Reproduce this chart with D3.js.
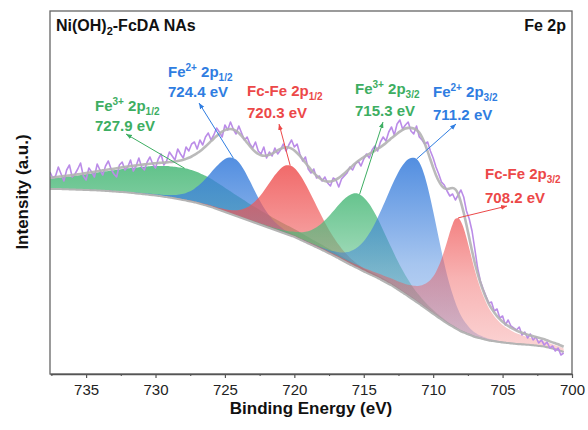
<!DOCTYPE html>
<html><head><meta charset="utf-8">
<script src="https://cdn.jsdelivr.net/npm/d3@7"></script>
<style>body{margin:0;background:#fff} svg{display:block;font-family:Arial,'Liberation Sans',sans-serif}</style>
</head><body><svg id="c" width="588" height="430"></svg>
<script>
// ---------- DATA ----------
const xTicks = [735, 730, 725, 720, 715, 710, 705, 700];
const xMinorTicks = [737.5, 732.5, 727.5, 722.5, 717.5, 712.5, 707.5, 702.5];

// fitted components (binding energies as labelled)
const peakSpecies  = ["Fe", "Fe", "Fc-Fe", "Fe", "Fe", "Fc-Fe"];
const peakCharge   = ["3+", "2+", "", "3+", "2+", ""];
const peakOrbital  = ["1/2", "1/2", "1/2", "3/2", "3/2", "3/2"];
const peakCenters  = [727.9, 724.4, 720.3, 715.3, 711.2, 708.2];
const peakHeights  = [32, 57, 70, 75, 143, 112];
const peakFWHMHigh = [14, 3.8, 3.8, 4.4, 5.0, 2.6];   // high-BE side
const peakFWHMLow  = [10, 3.4, 4.4, 4.6, 3.5, 2.9];   // low-BE side
const peakLorentz  = [0.7, 0.2, 0.2, 0.2, 0.1, 0.9];

// Shirley-type background
const bgEnergy = [738,737,736,735,734,733,732,731,730,729,728,727,726,725,724,723,722,721,720,
                  719,718,717,716,715,714,713,712,711,710,709,708,707,706,705,704,703,702,701,700];
const bgIntensity = [184,184,183.5,183,182.5,181.5,180.5,179,177.5,175.5,173,170,166,161,156,151,146,141,136,
                  129.5,123,116,108.5,101.5,95,87.5,78.5,69,59,49.5,41.5,36,32.5,30.5,29,28,26.5,23,18];

// raw spectrum, from 737.6 eV downward in 0.2 eV steps
const rawStartEV = 737.6, rawStepEV = 0.2;
const rawIntensity = [
 201,195,197,206,199,192,203,208,196,
 199,204,210,197,193,205,201,196,209,203,
 198,207,212,204,199,196,208,211,203,206,
 213,202,207,215,206,203,211,216,209,205,
 214,219,208,212,221,217,213,224,219,215,
 226,222,229,231,224,233,228,236,240,233,
 238,245,241,236,248,243,251,244,239,247,
 240,233,236,229,225,231,222,219,226,215,
 221,217,225,219,223,229,222,228,233,226,
 229,219,212,216,204,200,204,195,197,192,
 196,190,187,195,193,186,194,197,200,206,
 203,209,212,207,214,219,215,223,227,222,
 231,236,232,241,246,238,249,253,244,248,
 251,242,239,247,236,233,229,231,222,215,
 206,199,191,188,182,177,179,173,178,183,
 176,162,154,142,124,105,92,84,77,70,
 71,62,64,55,57,48,53,47,45,43,
 46,38,41,35,39,33,36,30,33,28,
 31,25,27,22,25,18,20
];

// ---------- STYLE / LAYOUT ----------
const peakFill = ["#4dba7b", "#3b7fdc", "#ef5656", "#4dba7b", "#3b7fdc", "#ef5656"];
const peakText = ["#3dae62", "#2f7de1", "#ec4848", "#3dae62", "#2f7de1", "#ec4848"];
const labelPos = [[95,111],[168,77],[247,96],[355,94],[433,97],[485,179]];
const labelGap = [20, 20, 22, 22, 23, 24];
const arrowEnd = [[126,134],[199,103],[279,124],[383,122],[456,124],[507,206]];

const L = 50, R = 572, T = 11, B = 374;
const font = "Arial,'Liberation Sans',sans-serif";

const svg = d3.select("#c");
const x = d3.scaleLinear().domain([737.6, 700]).range([L, R]);
const y = d3.scaleLinear().domain([-1, 362]).range([B, T]);
const bg = d3.scaleLinear().domain(bgEnergy).range(bgIntensity);

const rawE = rawIntensity.map((_, i) => rawStartEV - rawStepEV * i);
function peak(i, e) {
  const w = e >= peakCenters[i] ? peakFWHMHigh[i] : peakFWHMLow[i];
  const d = (e - peakCenters[i]) / w;
  const g = Math.exp(-4 * Math.LN2 * d * d);
  const l = 1 / (1 + 4 * d * d);
  return peakHeights[i] * ((1 - peakLorentz[i]) * g + peakLorentz[i] * l);
}

const defs = svg.append("defs");
defs.append("clipPath").attr("id", "clip").append("rect")
  .attr("x", L).attr("y", T).attr("width", R - L).attr("height", B - T);

peakFill.forEach((c, i) => {
  const g = defs.append("linearGradient").attr("id", "g" + i)
    .attr("x1", 0).attr("y1", 0).attr("x2", 0).attr("y2", 1);
  g.append("stop").attr("offset", 0).attr("stop-color", c).attr("stop-opacity", 0.88);
  g.append("stop").attr("offset", 0.55).attr("stop-color", c).attr("stop-opacity", 0.45);
  g.append("stop").attr("offset", 1).attr("stop-color", c).attr("stop-opacity", 0.25);
  defs.append("marker").attr("id", "m" + i).attr("viewBox", "0 0 10 10")
    .attr("refX", 10).attr("refY", 5).attr("markerWidth", 6).attr("markerHeight", 6)
    .attr("orient", "auto").append("path").attr("d", "M0,1L10,5L0,9Z").attr("fill", peakText[i]);
});

const plot = svg.append("g").attr("clip-path", "url(#clip)");

// component fills
peakCenters.forEach((c, i) => {
  const area = d3.area().x(e => x(e)).y0(e => y(bg(e))).y1(e => y(bg(e) + peak(i, e)))
    .curve(d3.curveMonotoneX);
  plot.append("path").datum(rawE).attr("d", area).attr("fill", `url(#g${i})`);
});

// background line
plot.append("path").datum(rawE)
  .attr("d", d3.line().x(e => x(e)).y(e => y(bg(e))).curve(d3.curveMonotoneX))
  .attr("fill", "none").attr("stroke", "#b4b4b4").attr("stroke-width", 2);

// raw data
plot.append("path").datum(rawIntensity)
  .attr("d", d3.line().x((v, i) => x(rawE[i])).y(v => y(v)))
  .attr("fill", "none").attr("stroke", "#bb8ce8").attr("stroke-width", 1.6)
  .attr("stroke-linejoin", "round");

// envelope
plot.append("path").datum(rawE)
  .attr("d", d3.line().x(e => x(e))
    .y(e => y(bg(e) + d3.sum(peakCenters, (c, i) => peak(i, e)))).curve(d3.curveMonotoneX))
  .attr("fill", "none").attr("stroke", "#b3b3b3").attr("stroke-width", 2.6).attr("stroke-opacity", 0.9);

// frame
svg.append("rect").attr("x", L).attr("y", T).attr("width", R - L).attr("height", B - T)
  .attr("fill", "none").attr("stroke", "#666").attr("stroke-width", 1.3);

// axis
const ax = svg.append("g").attr("transform", `translate(0,${B})`)
  .call(d3.axisBottom(x).tickValues(xTicks).tickSize(4).tickSizeOuter(0).tickPadding(6).tickFormat(d3.format("d")));
ax.select(".domain").attr("stroke", "#555").attr("stroke-width", 1.3);
ax.selectAll(".tick line").attr("stroke", "#555").attr("stroke-width", 1.2);
ax.selectAll(".tick text").attr("font-size", 15).attr("font-family", font).attr("fill", "#222");
const axm = svg.append("g").attr("transform", `translate(0,${B})`)
  .call(d3.axisBottom(x).tickValues(xMinorTicks).tickSize(2).tickFormat(""));
axm.select(".domain").remove();
axm.selectAll(".tick line").attr("stroke", "#555").attr("stroke-width", 1.1);

// axis titles
svg.append("text").attr("x", 311).attr("y", 414).attr("text-anchor", "middle")
  .attr("font-size", 17).attr("font-weight", "bold").attr("fill", "#111").text("Binding Energy (eV)");
svg.append("text").attr("transform", "translate(28,192) rotate(-90)").attr("text-anchor", "middle")
  .attr("font-size", 17).attr("font-weight", "bold").attr("fill", "#111").text("Intensity (a.u.)");

// panel titles
const t1 = svg.append("text").attr("x", 56).attr("y", 31).attr("font-size", 16)
  .attr("font-weight", "bold").attr("fill", "#111");
t1.append("tspan").text("Ni(OH)");
t1.append("tspan").attr("font-size", 11).attr("dy", 4).text("2");
t1.append("tspan").attr("dy", -4).text("-FcDA NAs");
svg.append("text").attr("x", 566).attr("y", 31).attr("text-anchor", "end").attr("font-size", 16)
  .attr("font-weight", "bold").attr("fill", "#111").text("Fe 2p");

// peak labels and arrows
peakCenters.forEach((c, i) => {
  const [lx, ly] = labelPos[i];
  const t = svg.append("text").attr("x", lx).attr("y", ly).attr("font-size", 15)
    .attr("font-weight", "bold").attr("fill", peakText[i]);
  t.append("tspan").text(peakSpecies[i]);
  if (peakCharge[i]) {
    t.append("tspan").attr("font-size", 10).attr("dy", -6).text(peakCharge[i]);
    t.append("tspan").attr("dy", 6).text(" 2p");
  } else {
    t.append("tspan").text(" 2p");
  }
  t.append("tspan").attr("font-size", 10).attr("dy", 4).text(peakOrbital[i]);
  svg.append("text").attr("x", lx).attr("y", ly + labelGap[i]).attr("font-size", 15)
    .attr("font-weight", "bold").attr("fill", peakText[i]).text(c.toFixed(1) + " eV");

  const sx = x(c), sy = y(bg(c) + peak(i, c));
  svg.append("line").attr("x1", sx).attr("y1", sy).attr("x2", arrowEnd[i][0]).attr("y2", arrowEnd[i][1])
    .attr("stroke", peakText[i]).attr("stroke-width", 1).attr("marker-end", `url(#m${i})`);
});
</script></body></html>
